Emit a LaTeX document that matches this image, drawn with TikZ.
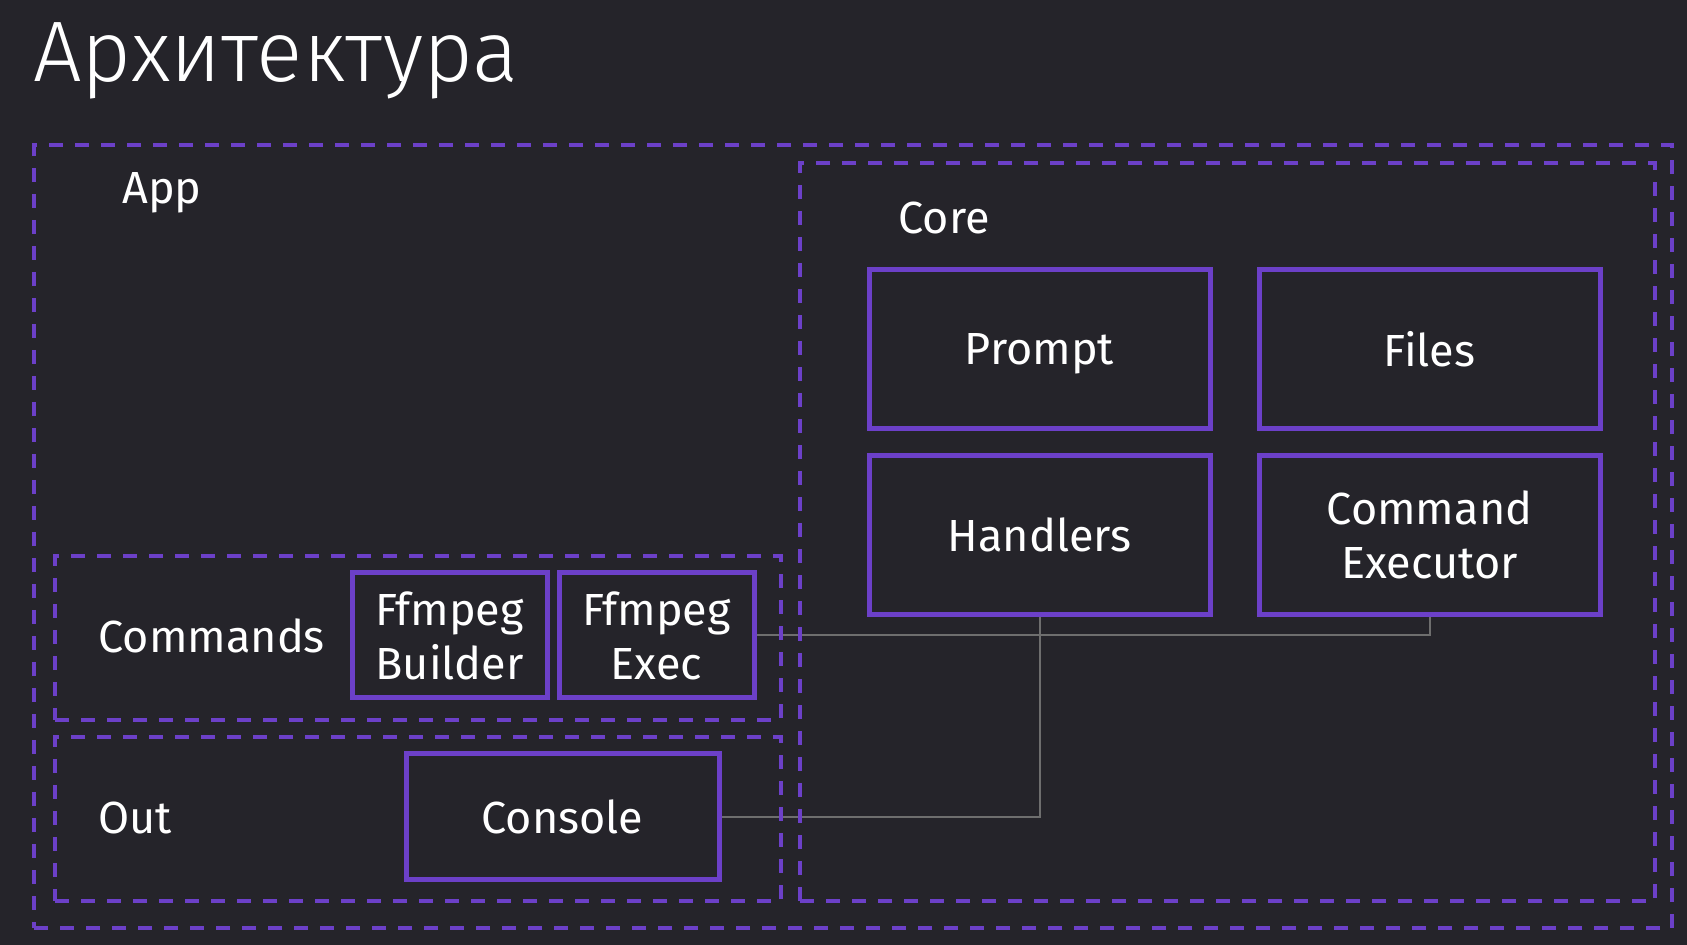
\documentclass[tikz,border=0pt]{standalone}
\usepackage{fontspec}
\setmainfont{Fira Sans}
\newfontfamily\titlefont{Fira Sans Light}
\usepackage{xcolor}
\usepackage{tikz}
\usetikzlibrary{positioning}

\definecolor{slidebg}{HTML}{25242A}
\definecolor{boxviolet}{HTML}{6C40C8}
\definecolor{linkgray}{HTML}{6E6E6E}

\begin{document}
\begin{tikzpicture}[x=0.5pt, y=-0.5pt, font=\fontsize{22.5}{27}\selectfont,
  group/.style={draw=boxviolet, line width=2pt, dash pattern=on 7pt off 6pt,
                inner sep=0pt, anchor=north west},
  block/.style={draw=boxviolet, line width=2.5pt, text=white, align=center, inner sep=0pt},
  tag/.style={text=white, anchor=base west, inner sep=0pt},
  link/.style={draw=linkgray, line width=1pt}]
  \fill[slidebg] (0,0) rectangle (1687,945);
  \node[tag, font=\titlefont\fontsize{43}{50}\selectfont] (title) at (33,82) {Архитектура};

  % core blocks
  \node[block, minimum width=170.5pt, minimum height=79.5pt, text depth=0pt] (prompt) at (1039.5,349.5) {Prompt};
  \node[block, minimum width=170.5pt, minimum height=79.5pt] (files) at (1429.5,349.5) {Files};
  \node[block, minimum width=170.5pt, minimum height=79.5pt] (handlers) at (1039.5,535) {Handlers};
  \node[block, minimum width=170.5pt, minimum height=79.5pt] (cmdexec) at (1429.5,535) {Command\\Executor};

  % app blocks
  \node[block, minimum width=97.5pt, minimum height=62.5pt] (builder) at (449.5,635.5) {Ffmpeg\\Builder};
  \node[block, minimum width=97.5pt, minimum height=62.5pt] (exec) at (656.5,635.5) {Ffmpeg\\Exec};
  \node[block, minimum width=156.5pt, minimum height=63pt] (console) at (562.5,817) {Console};

  \draw[link] (exec.east) -| (cmdexec.south);
  \draw[link] (handlers.south) |- (console.east);

  % dashed groups
  \node[group, minimum width=819pt, minimum height=391.5pt] (app) at (32,143) {};
  \node[group, minimum width=427.5pt, minimum height=369pt] (core) at (798,161) {};
  \node[group, minimum width=363pt, minimum height=82pt] (commands) at (53,554) {};
  \node[group, minimum width=363pt, minimum height=82pt] (out) at (53,735) {};

  \node[tag] (applabel) at (122,204) {App};
  \node[tag] (corelabel) at (898,234) {Core};
  \node[tag] (cmdlabel) at (98,653) {Commands};
  \node[tag] (outlabel) at (98,834) {Out};
\end{tikzpicture}
\end{document}
